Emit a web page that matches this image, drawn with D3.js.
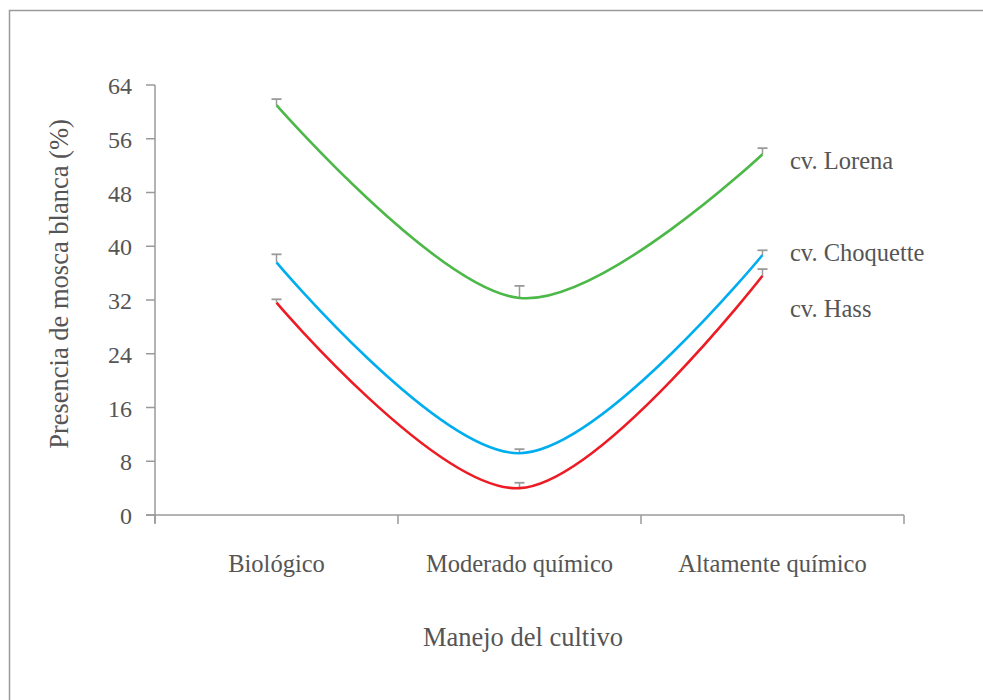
<!DOCTYPE html>
<html>
<head>
<meta charset="utf-8">
<script src="https://cdn.jsdelivr.net/npm/d3@7"></script>
<style>
  body { margin: 0; background: #fff; }
</style>
</head>
<body>
<div id="chart"></div>
<script>
'use strict';

// data
var categories = ['Biológico', 'Moderado químico', 'Altamente químico'];
var seriesNames = ['cv. Lorena', 'cv. Choquette', 'cv. Hass'];
var lorena = [61.0, 32.3, 53.7];
var lorenaErr = [0.9, 1.8, 0.9];
var choquette = [37.6, 9.2, 38.7];
var choquetteErr = [1.2, 0.6, 0.7];
var hass = [31.6, 4.0, 35.6];
var hassErr = [0.5, 0.8, 1.0];
var yTicks = [0, 8, 16, 24, 32, 40, 48, 56, 64];
var colors = ['#4bb847', '#00aeef', '#ed1c24'];

var width = 983, height = 700;
var axisColor = '#9a9a9a';
var textColor = '#555';

var svg = d3.select('#chart')
    .append('svg')
    .attr('width', width)
    .attr('height', height);

// every label goes through here so the serif face is set on the element
var addText = function (sel, size) {
    return sel.append('text')
        .style('font-family', '"Liberation Serif"')
        .style('font-size', size + 'px')
        .style('fill', textColor);
};

// outer frame (runs off the right and bottom)
svg.append('rect')
    .attr('x', 9.5).attr('y', 10.5)
    .attr('width', 1000).attr('height', 800)
    .attr('fill', 'none')
    .attr('stroke', axisColor)
    .attr('stroke-width', 1.5);

var y = d3.scaleLinear().domain([0, 64]).range([515, 85]);
var x = d3.scaleBand().domain(categories).range([155, 884]);
var xEnd = 904;

var pointX = function (c) { return x(c) + x.bandwidth() / 2; };

// y axis
var yAxis = svg.append('g');
yAxis.append('line')
    .attr('x1', 155).attr('x2', 155)
    .attr('y1', y(64)).attr('y2', y(0) + 8)
    .attr('stroke', axisColor).attr('stroke-width', 1.5);
yAxis.selectAll('line.tick')
    .data(yTicks)
    .enter().append('line')
    .attr('class', 'tick')
    .attr('x1', 146).attr('x2', 155)
    .attr('y1', function (d) { return y(d); })
    .attr('y2', function (d) { return y(d); })
    .attr('stroke', axisColor).attr('stroke-width', 1.5);
yTicks.forEach(function (t) {
    addText(yAxis, 24)
        .attr('x', 132)
        .attr('y', y(t))
        .attr('dy', '0.38em')
        .attr('text-anchor', 'end')
        .text(t);
});

// x axis
var bounds = [155, x(categories[1]), x(categories[2]), xEnd];
var xAxis = svg.append('g');
xAxis.append('line')
    .attr('x1', 146).attr('x2', xEnd)
    .attr('y1', y(0)).attr('y2', y(0))
    .attr('stroke', axisColor).attr('stroke-width', 1.5);
xAxis.selectAll('line.tick')
    .data(bounds)
    .enter().append('line')
    .attr('class', 'tick')
    .attr('x1', function (d) { return d; })
    .attr('x2', function (d) { return d; })
    .attr('y1', y(0)).attr('y2', y(0) + 9)
    .attr('stroke', axisColor).attr('stroke-width', 1.5);
categories.forEach(function (c, i) {
    addText(xAxis, 24.5)
        .attr('x', (bounds[i] + bounds[i + 1]) / 2)
        .attr('y', 572)
        .attr('text-anchor', 'middle')
        .text(c);
});

// axis titles
addText(svg, 26.5)
    .attr('transform', 'translate(68,284) rotate(-90)')
    .attr('text-anchor', 'middle')
    .text('Presencia de mosca blanca (%)');

addText(svg, 26.5)
    .attr('x', 523).attr('y', 646)
    .attr('text-anchor', 'middle')
    .text('Manejo del cultivo');

// series
var series = [
    {name: seriesNames[0], values: lorena, err: lorenaErr, color: colors[0], labelY: 160},
    {name: seriesNames[1], values: choquette, err: choquetteErr, color: colors[1], labelY: 252},
    {name: seriesNames[2], values: hass, err: hassErr, color: colors[2], labelY: 308}
];

var line = d3.line()
    .x(function (d) { return pointX(d.cat); })
    .y(function (d) { return y(d.v); })
    .curve(d3.curveCardinal.tension(0));

series.forEach(function (s) {
    var pts = categories.map(function (c, i) {
        return {cat: c, v: s.values[i], e: s.err[i]};
    });

    var g = svg.append('g');

    // error bars (upper only)
    var eb = g.selectAll('g.err')
        .data(pts)
        .enter().append('g')
        .attr('class', 'err');
    eb.append('line')
        .attr('x1', function (d) { return pointX(d.cat); })
        .attr('x2', function (d) { return pointX(d.cat); })
        .attr('y1', function (d) { return y(d.v); })
        .attr('y2', function (d) { return y(d.v + d.e); })
        .attr('stroke', axisColor).attr('stroke-width', 1.5);
    eb.append('line')
        .attr('x1', function (d) { return pointX(d.cat) - 5; })
        .attr('x2', function (d) { return pointX(d.cat) + 5; })
        .attr('y1', function (d) { return y(d.v + d.e); })
        .attr('y2', function (d) { return y(d.v + d.e); })
        .attr('stroke', axisColor).attr('stroke-width', 1.8);

    g.append('path')
        .datum(pts)
        .attr('d', line)
        .attr('fill', 'none')
        .attr('stroke', s.color)
        .attr('stroke-width', 2.6);

    addText(g, 24.5)
        .attr('x', 790)
        .attr('y', s.labelY)
        .attr('dy', '0.35em')
        .text(s.name);
});
</script>
</body>
</html>
